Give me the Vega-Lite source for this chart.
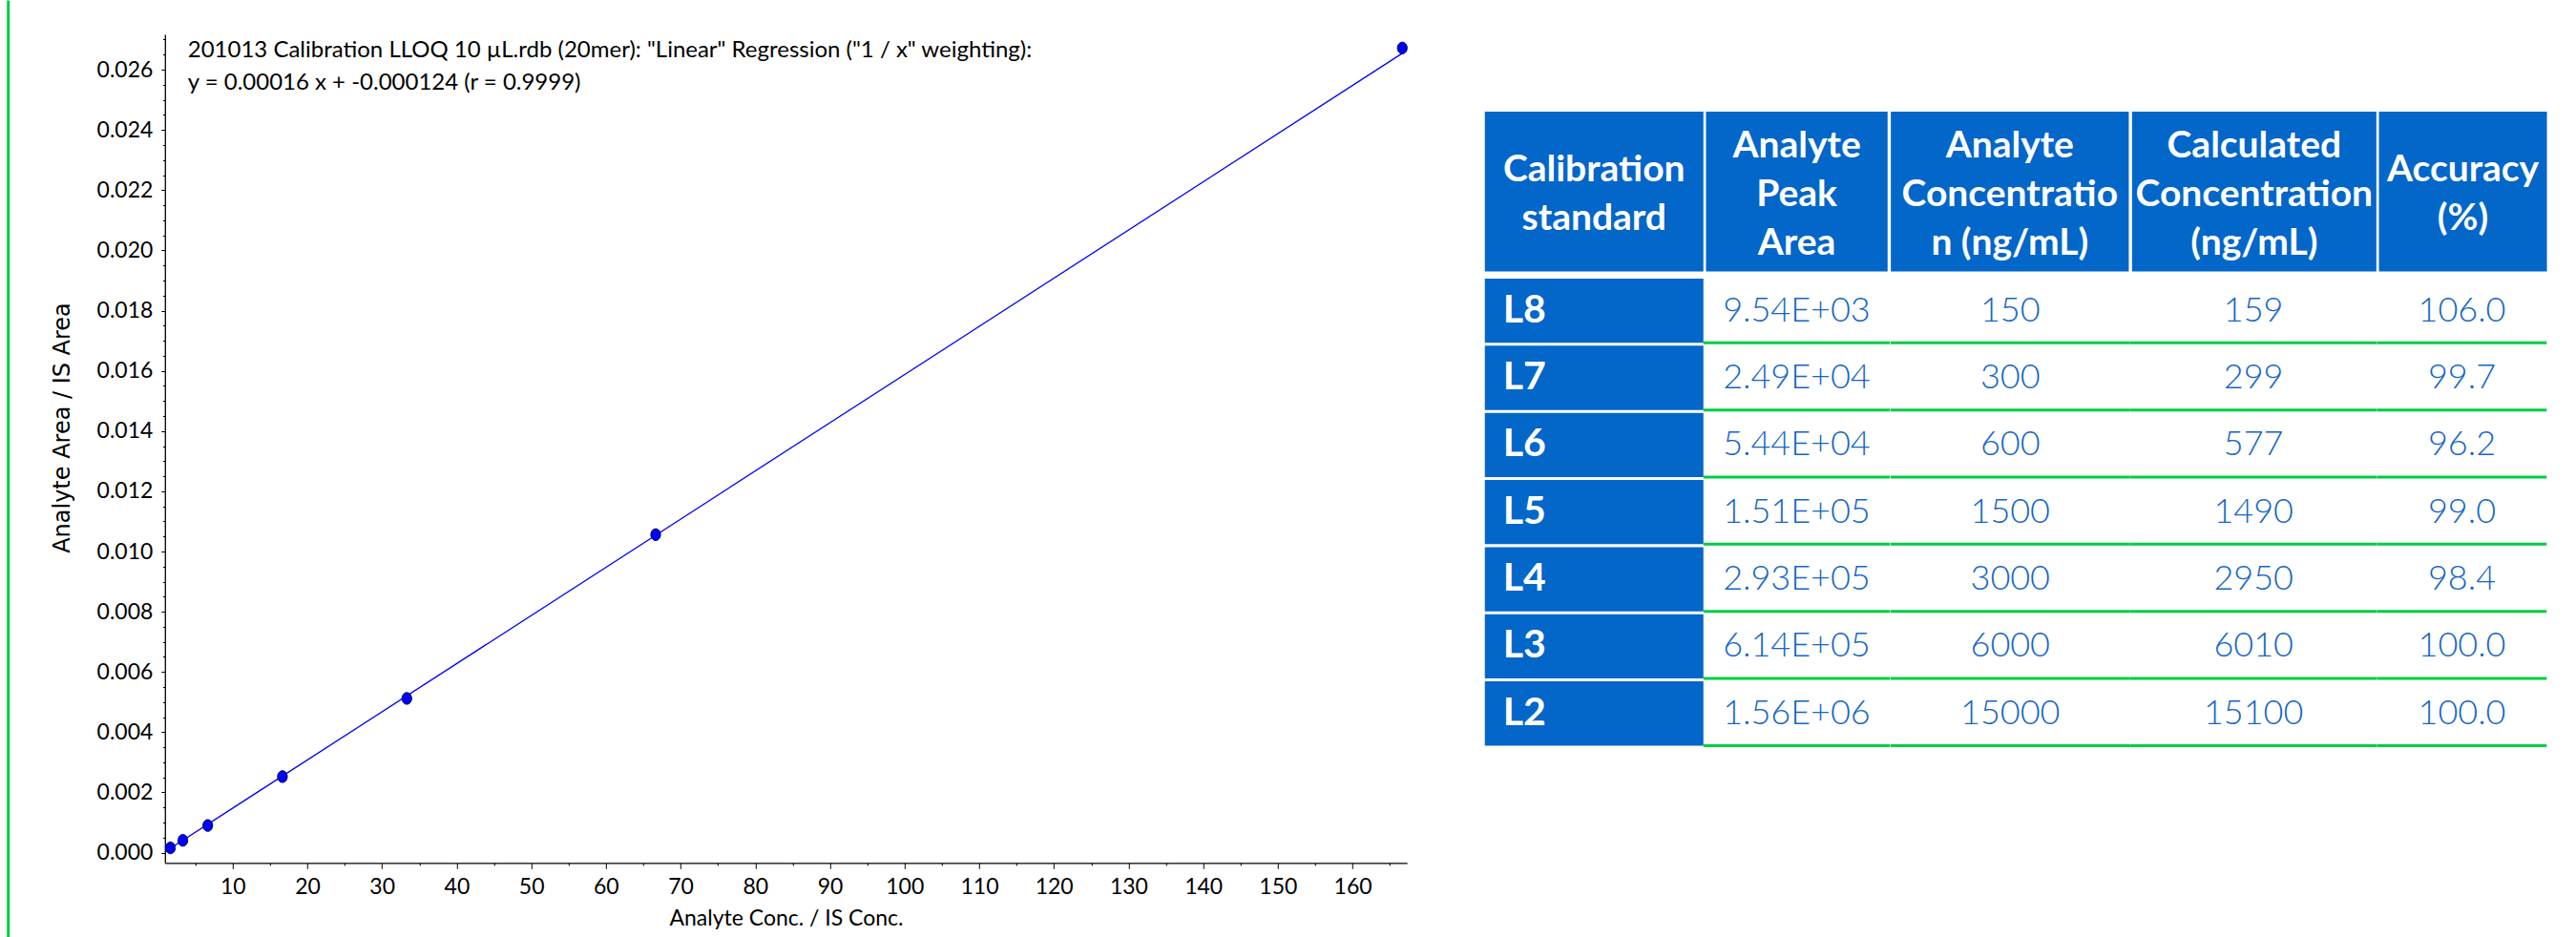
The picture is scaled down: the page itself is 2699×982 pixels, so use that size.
{
  "$schema": "https://vega.github.io/schema/vega-lite/v6.json",
  "background": "white",
  "padding": {"left": 6.7, "top": 0, "right": 0, "bottom": 0},
  "config": {
    "view": {"stroke": null},
    "font": "Lato"
  },
  "datasets": {
    "cal": [
      {"std": "L8", "ratio": 1.667, "resp": 0.000159},
      {"std": "L7", "ratio": 3.333, "resp": 0.000408},
      {"std": "L6", "ratio": 6.667, "resp": 0.000902},
      {"std": "L5", "ratio": 16.667, "resp": 0.002525},
      {"std": "L4", "ratio": 33.333, "resp": 0.005121},
      {"std": "L3", "ratio": 66.667, "resp": 0.01056},
      {"std": "L2", "ratio": 166.667, "resp": 0.02672}
    ],
    "fit": [
      {"ratio": 0.93, "resp": 0.000025},
      {"ratio": 166.667, "resp": 0.026543}
    ],
    "tbl": [
      {"std": "L8", "area": "9.54E+03", "conc": 150, "calc": 159, "acc": 106.0},
      {"std": "L7", "area": "2.49E+04", "conc": 300, "calc": 299, "acc": 99.7},
      {"std": "L6", "area": "5.44E+04", "conc": 600, "calc": 577, "acc": 96.2},
      {"std": "L5", "area": "1.51E+05", "conc": 1500, "calc": 1490, "acc": 99.0},
      {"std": "L4", "area": "2.93E+05", "conc": 3000, "calc": 2950, "acc": 98.4},
      {"std": "L3", "area": "6.14E+05", "conc": 6000, "calc": 6010, "acc": 100.0},
      {"std": "L2", "area": "1.56E+06", "conc": 15000, "calc": 15100, "acc": 100.0}
    ]
  },
  "spacing": 43.1,
  "hconcat": [
    {
      "width": 0.01,
      "height": 982,
      "view": {"stroke": "#00CC44", "strokeWidth": 3},
      "data": {"values": []},
      "mark": "rect",
      "encoding": {}
    },
    {
      "spacing": 0,
      "vconcat": [
        {
          "width": 10,
          "height": 33.5,
          "data": {"values": []},
          "mark": "rect",
          "encoding": {}
        },
        {
          "spacing": 78.95,
          "hconcat": [
            {
              "width": 1301.4,
              "height": 868.3,
              "title": {
                "text": ["201013 Calibration LLOQ 10 µL.rdb (20mer): \"Linear\" Regression (\"1 / x\" weighting):", "y = 0.00016 x + -0.000124 (r = 0.9999)"],
                "anchor": "start",
                "frame": "group",
                "orient": "top",
                "offset": -63,
                "dx": 24,
                "baseline": "top",
                "font": "Lato",
                "fontSize": 24,
                "fontWeight": "normal",
                "color": "black",
                "lineHeight": 34
              },
              "resolve": {"axis": {"x": "independent", "y": "independent"}},
              "layer": [
                {
                  "data": {"name": "fit"},
                  "mark": {"type": "line", "color": "#0000ff", "strokeWidth": 1.3},
                  "encoding": {
                    "x": {
                      "field": "ratio", "type": "quantitative",
                      "scale": {"domain": [0.93, 167.3], "nice": false, "zero": false},
                      "axis": {
                        "orient": "bottom",
                        "values": [10, 20, 30, 40, 50, 60, 70, 80, 90, 100, 110, 120, 130, 140, 150, 160],
                        "grid": false,
                        "domainColor": "black", "domainWidth": 1.3,
                        "tickColor": "black", "tickSize": 6, "tickWidth": 1,
                        "labelFont": "Lato", "labelFontSize": 23, "labelColor": "black", "labelPadding": 8,
                        "title": "Analyte Conc. / IS Conc.",
                        "titleFont": "Lato", "titleFontSize": 23, "titleFontWeight": "normal", "titleColor": "black",
                        "titlePadding": 10
                      }
                    },
                    "y": {
                      "field": "resp", "type": "quantitative",
                      "scale": {"domain": [-0.000339, 0.027174], "nice": false, "zero": false},
                      "axis": {
                        "orient": "left",
                        "values": [0, 0.002, 0.004, 0.006, 0.008, 0.01, 0.012, 0.014, 0.016, 0.018, 0.02, 0.022, 0.024, 0.026],
                        "format": ".3f",
                        "grid": false,
                        "domainColor": "black", "domainWidth": 1.3,
                        "tickColor": "black", "tickSize": 4, "tickWidth": 1,
                        "labelFont": "Lato", "labelFontSize": 23, "labelColor": "black", "labelPadding": 9,
                        "title": "Analyte Area / IS Area",
                        "titleFont": "DejaVu Sans", "titleFontSize": 24, "titleFontWeight": "normal", "titleColor": "black",
                        "titleX": -106.9, "titleY": 412, "titleBaseline": "middle", "titleAlign": "center", "titleAngle": -90
                      }
                    }
                  }
                },
                {
                  "data": {"name": "cal"},
                  "mark": {
                    "type": "point",
                    "shape": "M0,-1A0.83,1 0 1,1 0,1A0.83,1 0 1,1 0,-1Z",
                    "filled": true, "fill": "#0000ff", "stroke": "#000050", "strokeWidth": 1,
                    "size": 150, "opacity": 1
                  },
                  "encoding": {
                    "x": {
                      "field": "ratio", "type": "quantitative",
                      "axis": {
                        "orient": "bottom",
                        "values": [5, 15, 25, 35, 45, 55, 65, 75, 85, 95, 105, 115, 125, 135, 145, 155, 165],
                        "grid": false, "domain": false, "labels": false, "title": null,
                        "tickColor": "black", "tickSize": 2.7, "tickWidth": 1
                      }
                    },
                    "y": {
                      "field": "resp", "type": "quantitative",
                      "axis": {
                        "orient": "left",
                        "values": [0.0005, 0.001, 0.0015, 0.0025, 0.003, 0.0035, 0.0045, 0.005, 0.0055, 0.0065, 0.007, 0.0075, 0.0085, 0.009, 0.0095, 0.0105, 0.011, 0.0115, 0.0125, 0.013, 0.0135, 0.0145, 0.015, 0.0155, 0.0165, 0.017, 0.0175, 0.0185, 0.019, 0.0195, 0.0205, 0.021, 0.0215, 0.0225, 0.023, 0.0235, 0.0245, 0.025, 0.0255, 0.0265, 0.027],
                        "grid": false, "domain": false, "labels": false, "title": null,
                        "tickColor": "black", "tickSize": 2.3, "tickWidth": 1
                      }
                    }
                  }
                }
              ]
            },
            {
              "spacing": 7,
              "vconcat": [
                {
                  "width": 10,
                  "height": 73.75,
                  "data": {"values": []},
                  "mark": "rect",
                  "encoding": {}
                },
                {
                  "bounds": "flush",
                  "spacing": 2.7,
                  "hconcat": [
                    {
                      "width": 229, "height": 167.4,
                      "view": {"fill": "#0366C9", "stroke": null},
                      "data": {"values": [{"h": "Calibration|standard"}]},
                      "mark": {"type": "text", "lineBreak": "|", "font": "Lato", "fontWeight": "bold", "fontSize": 39, "lineHeight": 51, "color": "white", "align": "center", "baseline": "middle", "dy": -22.5},
                      "encoding": {"text": {"field": "h"}}
                    },
                    {
                      "width": 190.3, "height": 167.4,
                      "view": {"fill": "#0366C9", "stroke": null},
                      "data": {"values": [{"h": "Analyte|Peak|Area"}]},
                      "mark": {"type": "text", "lineBreak": "|", "font": "Lato", "fontWeight": "bold", "fontSize": 39, "lineHeight": 51, "color": "white", "align": "center", "baseline": "middle", "dy": -48},
                      "encoding": {"text": {"field": "h"}}
                    },
                    {
                      "width": 249.3, "height": 167.4,
                      "view": {"fill": "#0366C9", "stroke": null},
                      "data": {"values": [{"h": "Analyte|Concentratio|n (ng/mL)"}]},
                      "mark": {"type": "text", "lineBreak": "|", "font": "Lato", "fontWeight": "bold", "fontSize": 39, "lineHeight": 51, "color": "white", "align": "center", "baseline": "middle", "dy": -48},
                      "encoding": {"text": {"field": "h"}}
                    },
                    {
                      "width": 256, "height": 167.4,
                      "view": {"fill": "#0366C9", "stroke": null},
                      "data": {"values": [{"h": "Calculated|Concentration|(ng/mL)"}]},
                      "mark": {"type": "text", "lineBreak": "|", "font": "Lato", "fontWeight": "bold", "fontSize": 39, "lineHeight": 51, "color": "white", "align": "center", "baseline": "middle", "dy": -48},
                      "encoding": {"text": {"field": "h"}}
                    },
                    {
                      "width": 176, "height": 167.4,
                      "view": {"fill": "#0366C9", "stroke": null},
                      "data": {"values": [{"h": "Accuracy|(%)"}]},
                      "mark": {"type": "text", "lineBreak": "|", "font": "Lato", "fontWeight": "bold", "fontSize": 39, "lineHeight": 51, "color": "white", "align": "center", "baseline": "middle", "dy": -22.5},
                      "encoding": {"text": {"field": "h"}}
                    }
                  ]
                },
                {
                  "bounds": "flush",
                  "spacing": 0,
                  "hconcat": [
                    {
                      "width": 229, "height": 489.4,
                      "data": {"name": "tbl"},
                      "layer": [
                        {
                          "mark": {"type": "rect", "color": "#0366C9"},
                          "encoding": {
                            "y": {"field": "std", "type": "nominal", "sort": null, "axis": null, "scale": {"paddingInner": 0.043, "paddingOuter": 0}}
                          }
                        },
                        {
                          "mark": {"type": "text", "font": "Lato", "fontWeight": "bold", "fontSize": 41, "color": "white", "align": "left", "baseline": "middle", "dx": 19},
                          "encoding": {
                            "x": {"value": 0},
                            "y": {"field": "std", "type": "nominal", "sort": null, "axis": null},
                            "text": {"field": "std"}
                          }
                        }
                      ]
                    },
                    {
                      "width": 195.4, "height": 489.4,
                      "data": {"name": "tbl"},
                      "layer": [
                        {
                          "mark": {"type": "rule", "color": "#00CC44", "strokeWidth": 3},
                          "encoding": {"y": {"field": "std", "type": "nominal", "sort": null, "axis": null, "bandPosition": 1, "scale": {"paddingInner": 0.043, "paddingOuter": 0}}}
                        },
                        {
                          "mark": {"type": "text", "font": "Lato", "fontWeight": 300, "fontSize": 36, "color": "#1466C6", "align": "center", "baseline": "middle"},
                          "encoding": {"y": {"field": "std", "type": "nominal", "sort": null, "axis": null}, "text": {"field": "area"}}
                        }
                      ]
                    },
                    {
                      "width": 251, "height": 489.4,
                      "data": {"name": "tbl"},
                      "layer": [
                        {
                          "mark": {"type": "rule", "color": "#00CC44", "strokeWidth": 3},
                          "encoding": {"y": {"field": "std", "type": "nominal", "sort": null, "axis": null, "bandPosition": 1, "scale": {"paddingInner": 0.043, "paddingOuter": 0}}}
                        },
                        {
                          "mark": {"type": "text", "font": "Lato", "fontWeight": 300, "fontSize": 36, "color": "#1466C6", "align": "center", "baseline": "middle"},
                          "encoding": {"y": {"field": "std", "type": "nominal", "sort": null, "axis": null}, "text": {"field": "conc", "type": "quantitative", "format": "d"}}
                        }
                      ]
                    },
                    {
                      "width": 258.8, "height": 489.4,
                      "data": {"name": "tbl"},
                      "layer": [
                        {
                          "mark": {"type": "rule", "color": "#00CC44", "strokeWidth": 3},
                          "encoding": {"y": {"field": "std", "type": "nominal", "sort": null, "axis": null, "bandPosition": 1, "scale": {"paddingInner": 0.043, "paddingOuter": 0}}}
                        },
                        {
                          "mark": {"type": "text", "font": "Lato", "fontWeight": 300, "fontSize": 36, "color": "#1466C6", "align": "center", "baseline": "middle"},
                          "encoding": {"y": {"field": "std", "type": "nominal", "sort": null, "axis": null}, "text": {"field": "calc", "type": "quantitative", "format": "d"}}
                        }
                      ]
                    },
                    {
                      "width": 177.5, "height": 489.4,
                      "data": {"name": "tbl"},
                      "layer": [
                        {
                          "mark": {"type": "rule", "color": "#00CC44", "strokeWidth": 3},
                          "encoding": {"y": {"field": "std", "type": "nominal", "sort": null, "axis": null, "bandPosition": 1, "scale": {"paddingInner": 0.043, "paddingOuter": 0}}}
                        },
                        {
                          "mark": {"type": "text", "font": "Lato", "fontWeight": 300, "fontSize": 36, "color": "#1466C6", "align": "center", "baseline": "middle"},
                          "encoding": {"y": {"field": "std", "type": "nominal", "sort": null, "axis": null}, "text": {"field": "acc", "type": "quantitative", "format": ".1f"}}
                        }
                      ]
                    }
                  ]
                }
              ]
            }
          ]
        }
      ]
    }
  ]
}
